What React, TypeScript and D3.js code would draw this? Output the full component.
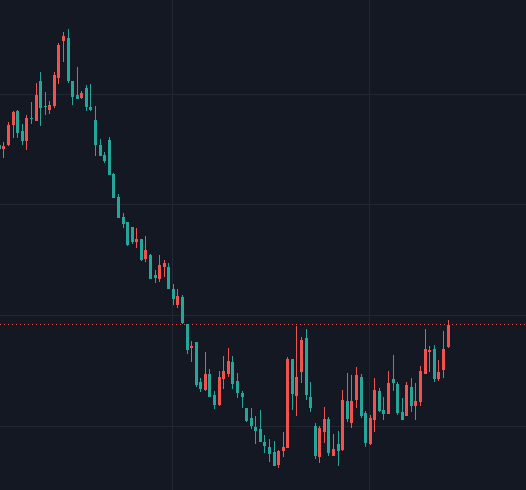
import * as d3 from "d3";

// OHLC, one entry per candle
const opens = [
  35.42, 35.06, 35.42, 37.23, 38.5, 36.69, 35.78, 37.86, 37.59, 41.21,
  38.95, 38.59, 38.95, 41.48, 44.82, 45.09, 41.21, 39.94, 39.67, 40.57,
  38.86, 37.68, 35.42, 34.52, 35.87, 32.8, 30.72, 28.91, 28.46, 28.01,
  26.65, 26.92, 25.12, 25.48, 23.67, 23.31, 24.39, 24.39, 22.4, 20.96,
  21.68, 19.24, 17.07, 17.61, 14.0, 13.27, 14.72, 12.82, 11.92, 14.27,
  14.72, 15.81, 14.09, 13.0, 11.65, 10.74, 9.93, 9.75, 8.57, 8.12,
  7.67, 6.49, 7.76, 8.03, 16.08, 12.73, 14.9, 17.97, 12.64, 10.02,
  7.22, 9.48, 10.65, 7.31, 8.39, 7.85, 12.28, 10.29, 12.37, 14.45,
  11.19, 8.39, 10.56, 13.18, 11.47, 11.1, 14.27, 13.82, 11.29, 10.92,
  13.55, 11.83, 12.19, 14.72, 16.71, 16.98, 14.27, 15.08, 17.16,
];
const highs = [
  35.6, 35.69, 37.5, 38.5, 38.59, 37.32, 38.13, 39.31, 41.03, 42.02,
  40.21, 39.4, 42.02, 44.64, 45.64, 45.91, 41.21, 42.47, 40.3, 40.85,
  40.94, 38.95, 35.96, 34.79, 36.15, 32.89, 30.99, 29.27, 28.46, 28.01,
  27.92, 26.92, 27.2, 25.57, 24.12, 25.48, 25.03, 24.75, 22.86, 22.4,
  21.86, 19.24, 17.7, 17.61, 14.36, 16.71, 15.17, 13.18, 14.99, 16.35,
  17.07, 16.35, 14.81, 13.18, 11.65, 11.65, 10.92, 11.47, 9.21, 8.84,
  8.66, 7.85, 9.48, 16.26, 16.08, 19.06, 18.07, 18.79, 14.0, 10.29,
  10.02, 11.74, 10.83, 9.3, 9.57, 13.27, 14.81, 14.63, 15.35, 14.72,
  11.38, 11.01, 14.36, 13.45, 12.64, 14.99, 16.44, 14.0, 12.55, 14.0,
  14.36, 13.91, 15.44, 18.79, 17.25, 17.34, 15.99, 18.61, 19.6,
];
const lows = [
  34.88, 34.25, 35.33, 36.05, 36.05, 35.42, 34.97, 37.32, 37.59, 37.14,
  38.13, 38.22, 38.77, 40.94, 42.93, 41.03, 39.04, 39.58, 39.58, 38.5,
  38.5, 34.43, 34.43, 33.79, 32.71, 30.63, 28.82, 27.92, 26.29, 26.47,
  26.11, 24.94, 24.85, 23.31, 22.95, 23.04, 23.49, 22.4, 20.96, 20.69,
  19.24, 16.53, 15.81, 13.55, 13.09, 13.18, 12.64, 11.56, 11.83, 13.36,
  14.45, 13.36, 12.55, 11.65, 10.38, 9.75, 8.39, 8.57, 7.58, 6.77,
  6.4, 6.22, 7.22, 8.03, 11.47, 10.92, 13.91, 12.37, 11.29, 7.04,
  6.67, 8.48, 7.31, 7.31, 6.4, 7.76, 10.38, 9.84, 11.65, 10.74,
  8.12, 8.3, 9.48, 11.29, 10.56, 11.1, 13.18, 11.01, 10.56, 10.92,
  11.29, 10.56, 11.83, 14.72, 14.9, 14.0, 14.09, 14.36, 17.07,
];
const closes = [
  35.06, 35.33, 37.23, 38.41, 36.51, 35.78, 37.86, 37.77, 39.94, 38.77,
  38.86, 39.04, 41.75, 44.46, 45.28, 41.21, 39.76, 39.58, 40.12, 38.86,
  38.59, 35.42, 34.43, 33.98, 32.71, 30.63, 28.82, 28.28, 26.38, 26.65,
  26.92, 25.03, 25.93, 23.31, 23.4, 24.57, 24.75, 22.4, 21.5, 21.77,
  19.33, 16.89, 17.25, 13.73, 13.36, 14.72, 12.64, 11.92, 14.45, 14.99,
  15.9, 13.82, 13.0, 12.64, 10.47, 10.02, 9.57, 8.57, 8.21, 7.49,
  6.4, 7.76, 8.12, 16.08, 12.91, 14.45, 17.79, 12.82, 11.65, 7.31,
  9.84, 10.65, 7.58, 7.94, 7.76, 12.37, 10.65, 12.28, 14.63, 10.92,
  8.48, 10.74, 13.27, 11.38, 11.1, 13.91, 13.91, 11.19, 10.56, 13.73,
  11.83, 12.28, 14.99, 16.98, 16.89, 14.27, 14.9, 16.98, 19.15,
];

// grid levels (price) and vertical grid at these candle indices
const priceGrid = [40, 30, 20, 10];
const timeGrid = [38, 81];

const W = 526;
const H = 490;
const UP = "#ef5350";
const DOWN = "#26a69a";

export default function App() {
  const x = d3.scaleLinear().domain([0, opens.length - 1]).range([-1.08, 447.5]);
  const y = d3.scaleLinear().domain([40, 10]).range([94.3, 426.2]);
  const crisp = (v: number) => Math.floor(v) + 0.5;

  const candles = d3.range(opens.length).map((i) => ({
    o: opens[i],
    h: highs[i],
    l: lows[i],
    c: closes[i],
    cx: Math.round(x(i)),
  }));
  const last = candles[candles.length - 1];
  const lastY = crisp(y(last.c));

  return (
    <div style={{ position: "fixed", left: 0, top: 0, width: W, height: H, background: "#141823" }}>
      <svg width={W} height={H} style={{ display: "block" }}>
        <rect width={W} height={H} fill="#141823" />
        {priceGrid.map((p) => (
          <line key={"h" + p} x1={0} x2={W} y1={crisp(y(p))} y2={crisp(y(p))} stroke="#232733" />
        ))}
        {timeGrid.map((t) => (
          <line key={"v" + t} y1={0} y2={H} x1={crisp(x(t))} x2={crisp(x(t))} stroke="#232733" />
        ))}
        <line x1={0} x2={W} y1={lastY} y2={lastY} stroke={last.c >= last.o ? UP : DOWN} strokeDasharray="1 3" />
        {candles.map((d, i) => {
          const col = d.c >= d.o ? UP : DOWN;
          const top = Math.round(y(Math.max(d.o, d.c)));
          const bot = Math.round(y(Math.min(d.o, d.c)));
          return (
            <g key={i}>
              <line
                x1={d.cx + 0.5}
                x2={d.cx + 0.5}
                y1={Math.round(y(d.h))}
                y2={Math.round(y(d.l))}
                stroke={col}
              />
              <rect x={d.cx - 1} width={3} y={top} height={Math.max(1, bot - top)} fill={col} />
            </g>
          );
        })}
      </svg>
    </div>
  );
}
